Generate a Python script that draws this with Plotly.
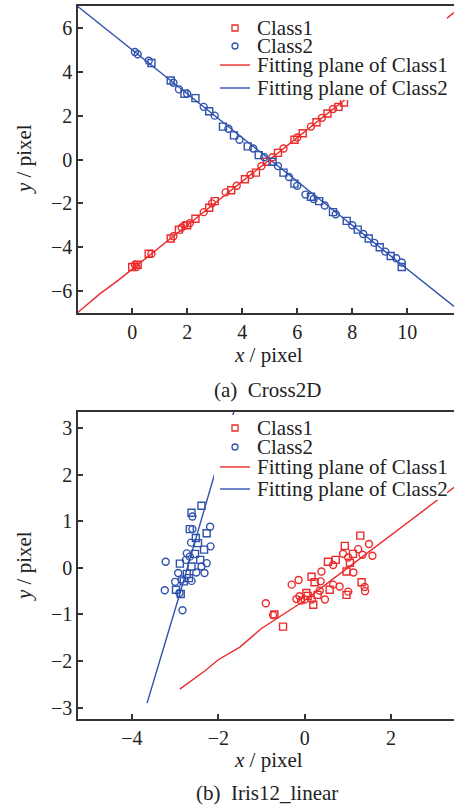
import plotly.graph_objects as go

RED = "#ec2a2a"
BLUE = "#2f52ad"
AX = "#333333"
FONT = "Liberation Serif"

# ---------- (a) Cross2D ----------
a_c1_sq_x = [0.0, 0.2, 0.6, 1.4, 1.7, 2.0, 2.3, 2.8, 3.0, 3.6, 4.1, 4.5, 4.9, 5.3, 5.9, 6.2, 6.7, 7.1, 7.5, 7.7]
a_c1_sq_y = [-4.9, -4.8, -4.3, -3.6, -3.2, -3.0, -2.7, -2.2, -1.9, -1.4, -0.9, -0.6, -0.1, 0.3, 0.9, 1.2, 1.7, 2.1, 2.4, 2.6]
a_c1_ci_x = [0.1, 0.15, 0.7, 1.5, 1.8, 1.9, 2.1, 2.6, 2.9, 3.4, 3.8, 4.3, 4.7, 5.1, 5.5, 6.0, 6.5, 6.9, 7.3]
a_c1_ci_y = [-4.8, -4.9, -4.3, -3.5, -3.1, -3.0, -2.9, -2.4, -2.0, -1.5, -1.2, -0.7, -0.3, 0.1, 0.5, 1.0, 1.5, 1.9, 2.3]
a_c2_ci_x = [0.1, 0.2, 0.6, 1.5, 1.7, 2.0, 2.6, 3.0, 3.5, 3.9, 4.4, 4.8, 5.3, 5.7, 6.0, 6.3, 6.6, 7.0, 7.4, 8.0, 8.4, 8.8, 9.2, 9.6, 9.8]
a_c2_ci_y = [4.9, 4.8, 4.5, 3.5, 3.2, 3.0, 2.4, 2.0, 1.4, 0.9, 0.5, 0.1, -0.3, -0.8, -1.2, -1.6, -1.8, -2.1, -2.5, -3.0, -3.4, -3.8, -4.2, -4.5, -4.7]
a_c2_sq_x = [0.7, 1.4, 1.9, 2.3, 2.8, 3.3, 3.7, 4.2, 4.6, 5.1, 5.5, 5.9, 6.5, 6.8, 7.3, 7.8, 8.2, 8.6, 9.0, 9.4, 9.8]
a_c2_sq_y = [4.4, 3.6, 3.0, 2.8, 2.2, 1.5, 1.1, 0.6, 0.2, -0.1, -0.6, -1.1, -1.7, -1.9, -2.4, -2.8, -3.2, -3.6, -4.0, -4.4, -4.9]
a_fit1_x = [-2.0, -1.2, -0.5, 0.5, 2.0, 4.0, 6.0, 8.0, 10.0, 11.7]
a_fit1_y = [-7.0, -6.15, -5.5, -4.5, -3.0, -1.0, 1.0, 3.0, 5.0, 6.7]
a_fit2_x = [-2.0, 0.0, 2.0, 4.0, 6.0, 8.0, 10.0, 11.7]
a_fit2_y = [7.0, 5.0, 3.0, 1.0, -1.0, -3.0, -5.0, -6.7]
a_xticks = [0, 2, 4, 6, 8, 10]
a_yticks = [-6, -4, -2, 0, 2, 4, 6]

# ---------- (b) Iris12_linear ----------
b_c1_sq_x = [1.29, 0.93, 1.12, 0.72, 0.54, 1.05, 0.97, 0.16, 0.23, 1.32, 0.58, 0.04, 0.2, 0.3, 0.07, -0.5, -0.7, 0.97]
b_c1_sq_y = [0.69, 0.47, 0.30, 0.17, 0.13, 0.11, -0.08, -0.19, -0.31, -0.31, -0.47, -0.54, -0.79, -0.58, -0.60, -1.26, -1.0, -0.58]
b_c1_ci_x = [1.49, 1.24, 0.89, 1.34, 1.57, 1.01, 0.66, 0.39, 1.13, 0.37, -0.3, -0.14, 0.66, 1.39, 0.81, 1.01, 0.35, -0.12, -0.9, -0.73, -0.19, -0.08, 0.0, 0.17, 0.47, 1.4]
b_c1_ci_y = [0.51, 0.40, 0.30, 0.28, 0.26, 0.22, 0.06, -0.08, -0.10, -0.29, -0.36, -0.26, -0.36, -0.41, -0.40, -0.51, -0.49, -0.61, -0.76, -1.01, -0.67, -0.70, -0.68, -0.68, -0.68, -0.50]
b_c2_sq_x = [-2.62, -2.39, -2.66, -2.27, -2.52, -2.47, -2.33, -2.54, -2.42, -2.89, -2.62, -2.73, -2.68, -2.8, -2.98, -2.87]
b_c2_sq_y = [1.18, 1.33, 0.83, 0.74, 0.64, 0.53, 0.39, 0.30, 0.17, 0.09, 0.03, -0.13, -0.22, -0.29, -0.47, -0.56]
b_c2_ci_x = [-2.60, -2.60, -2.19, -2.63, -2.18, -2.73, -2.66, -2.75, -2.27, -3.22, -2.39, -2.93, -2.51, -2.32, -2.85, -2.62, -3.0, -3.24, -2.9, -2.83]
b_c2_ci_y = [1.10, 0.83, 0.88, 0.54, 0.46, 0.31, 0.24, 0.17, 0.10, 0.13, 0.03, -0.11, -0.10, -0.11, -0.25, -0.28, -0.30, -0.48, -0.54, -0.91]
b_fit1_x = [-2.89, -2.3, -2.0, -1.5, -1.0, -0.5, 0.0, 0.5, 1.0, 1.5, 2.0, 2.5, 3.0, 3.3, 3.5]
b_fit1_y = [-2.6, -2.2, -1.97, -1.7, -1.3, -1.0, -0.7, -0.35, 0.0, 0.35, 0.7, 1.05, 1.4, 1.6, 1.75]
b_fit2_x = [-3.65, -3.5, -3.3, -3.1, -2.89, -2.7, -2.5, -2.3, -2.12, -1.9, -1.62]
b_fit2_y = [-2.9, -2.45, -1.8, -1.2, -0.55, 0.05, 0.7, 1.35, 1.93, 2.6, 3.4]
b_xticks = [-4, -2, 0, 2]
b_yticks = [-3, -2, -1, 0, 1, 2, 3]

labels = ["Class1", "Class2", "Fitting plane of Class1", "Fitting plane of Class2"]

W, H = 454, 805
def px(v): return v / W
def py(v): return 1 - v / H

fig = go.Figure()

def add_panel(xa, ya, c1sq, c1ci, c2sq, c2ci, f1, f2):
    mk = dict(size=7, line=dict(width=1.4))
    fig.add_trace(go.Scatter(x=f1[0], y=f1[1], mode="lines", name=labels[2], showlegend=False,
                             xaxis=xa, yaxis=ya, line=dict(color=RED, width=1.4)))
    fig.add_trace(go.Scatter(x=f2[0], y=f2[1], mode="lines", name=labels[3], showlegend=False,
                             xaxis=xa, yaxis=ya, line=dict(color=BLUE, width=1.4)))
    fig.add_trace(go.Scatter(x=c1sq[0], y=c1sq[1], mode="markers", name=labels[0], showlegend=False,
                             xaxis=xa, yaxis=ya,
                             marker=dict(symbol="square-open", color=RED, **mk)))
    fig.add_trace(go.Scatter(x=c1ci[0], y=c1ci[1], mode="markers", name=labels[0], showlegend=False,
                             xaxis=xa, yaxis=ya,
                             marker=dict(symbol="circle-open", color=RED, **mk)))
    fig.add_trace(go.Scatter(x=c2ci[0], y=c2ci[1], mode="markers", name=labels[1], showlegend=False,
                             xaxis=xa, yaxis=ya,
                             marker=dict(symbol="circle-open", color=BLUE, **mk)))
    fig.add_trace(go.Scatter(x=c2sq[0], y=c2sq[1], mode="markers", name=labels[1], showlegend=False,
                             xaxis=xa, yaxis=ya,
                             marker=dict(symbol="square-open", color=BLUE, **mk)))

add_panel("x", "y", (a_c1_sq_x, a_c1_sq_y), (a_c1_ci_x, a_c1_ci_y),
          (a_c2_sq_x, a_c2_sq_y), (a_c2_ci_x, a_c2_ci_y), (a_fit1_x, a_fit1_y), (a_fit2_x, a_fit2_y))
add_panel("x2", "y2", (b_c1_sq_x, b_c1_sq_y), (b_c1_ci_x, b_c1_ci_y),
          (b_c2_sq_x, b_c2_sq_y), (b_c2_ci_x, b_c2_ci_y), (b_fit1_x, b_fit1_y), (b_fit2_x, b_fit2_y))

axis_common = dict(showline=True, linecolor=AX, linewidth=1.6, ticks="inside", ticklen=5,
                   tickwidth=1.5, tickcolor=AX, showgrid=False, zeroline=False,
                   tickfont=dict(family=FONT, size=20, color="#222"))

fig.update_layout(
    width=W, height=H, margin=dict(l=0, r=0, t=0, b=0),
    plot_bgcolor="white", paper_bgcolor="white", showlegend=False,
    xaxis=dict(domain=[px(78), 1.0], range=[-1.97, 11.7], tickvals=a_xticks, mirror=True,
               anchor="y", **axis_common),
    yaxis=dict(domain=[py(313), py(6)], range=[-7.0, 7.0], tickvals=a_yticks, anchor="x",
               **axis_common),
    xaxis2=dict(domain=[px(78), 1.0], range=[-5.25, 3.46], tickvals=b_xticks, mirror=True,
                anchor="y2", **axis_common),
    yaxis2=dict(domain=[py(719), py(412)], range=[-3.24, 3.34], tickvals=b_yticks, anchor="x2",
                **axis_common),
)

ann_font = dict(family=FONT, size=21, color="#222")

# hand-drawn legends (tight row spacing like the reference)
def add_legend(top, rows):
    fig.add_shape(type="rect", xref="paper", yref="paper", layer="above",
                  x0=px(214), x1=px(447), y0=py(top), y1=py(top + 85),
                  fillcolor="white", line=dict(width=0))
    fig.add_shape(type="rect", xref="paper", yref="paper", layer="above",
                  x0=px(232), x1=px(238), y0=py(rows[0] - 3), y1=py(rows[0] + 3),
                  fillcolor="rgba(0,0,0,0)", line=dict(color=RED, width=1.3))
    fig.add_shape(type="circle", xref="paper", yref="paper", layer="above",
                  x0=px(232), x1=px(238), y0=py(rows[1] - 3), y1=py(rows[1] + 3),
                  fillcolor="rgba(0,0,0,0)", line=dict(color=BLUE, width=1.3))
    fig.add_shape(type="line", xref="paper", yref="paper", layer="above",
                  x0=px(220), x1=px(250), y0=py(rows[2]), y1=py(rows[2]),
                  line=dict(color=RED, width=1.4))
    fig.add_shape(type="line", xref="paper", yref="paper", layer="above",
                  x0=px(220), x1=px(250), y0=py(rows[3]), y1=py(rows[3]),
                  line=dict(color=BLUE, width=1.4))
    for r, t in zip(rows, labels):
        fig.add_annotation(xref="paper", yref="paper", showarrow=False, xanchor="left",
                           yanchor="middle", x=px(255), y=py(r), text=t, font=ann_font)

add_legend(15, [28, 46, 65, 88])
add_legend(415, [428, 447, 467, 489])

annos = [
    dict(text="<i>y</i> / pixel", x=px(24), y=py(159), textangle=-90),
    dict(text="<i>y</i> / pixel", x=px(24), y=py(566), textangle=-90),
    dict(text="<i>x</i> / pixel", x=px(268), y=py(355)),
    dict(text="<i>x</i> / pixel", x=px(268), y=py(760)),
    dict(text="(a)\u00a0 Cross2D", x=px(267), y=py(390)),
    dict(text="(b)\u00a0 Iris12_linear", x=px(267), y=py(793)),
]
for a in annos:
    fig.add_annotation(xref="paper", yref="paper", showarrow=False, xanchor="center",
                       yanchor="middle", font=ann_font, **a)

fig.write_html("out.html", config={"displayModeBar": False},
               post_script="document.body.style.margin='0';document.body.style.overflow='hidden';")
